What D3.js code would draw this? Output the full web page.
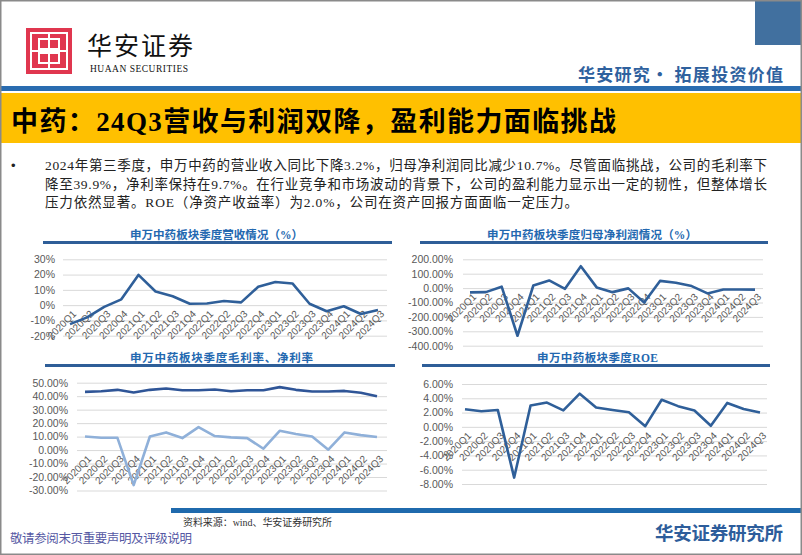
<!DOCTYPE html>
<html><head><meta charset="utf-8">
<script src="https://cdn.jsdelivr.net/npm/d3@7"></script>
<style>
html,body{margin:0;padding:0;background:#fff;}
svg{display:block;}
</style></head>
<body>
<svg id="c" width="802" height="555"></svg>
<script>
// ---------- DATA ----------
const quarters = ["2020Q1","2020Q2","2020Q3","2020Q4","2021Q1","2021Q2","2021Q3","2021Q4","2022Q1","2022Q2","2022Q3","2022Q4","2023Q1","2023Q2","2023Q3","2023Q4","2024Q1","2024Q2","2024Q3"];
const revenueYoY = [-12.4,-8.0,-1.1,3.8,19.8,8.9,5.8,0.9,1.1,2.7,1.8,12.0,15.1,14.2,0.9,-4.0,-0.7,-5.8,-3.2];
const netProfitYoY = [-30,-28,10,-331,18,53,-5,152,5,-28,-2,-100,50,37,14,-37,-10,-10,-10.7];
const grossMargin = [43.2,43.7,44.7,42.7,44.7,45.7,44.4,44.4,44.9,43.7,44.4,44.4,46.7,44.7,43.5,43.5,43.9,42.5,39.9];
const netMargin = [10.1,9.1,9.1,-26,10.1,13.1,8.9,17.0,10.4,9.4,8.9,1.0,14.3,11.9,10.1,0.3,13.1,11.1,9.7];
const roe = [2.47,2.19,2.37,-7.1,3.0,3.4,2.3,4.65,2.7,2.37,2.05,0.1,3.8,2.9,2.3,0.15,3.35,2.5,2.0];
const revenueTicks = [-20,-10,0,10,20,30];
const profitTicks = [-400,-300,-200,-100,0,100,200];
const marginTicks = [-30,-20,-10,0,10,20,30,40,50];
const roeTicks = [-8,-6,-4,-2,0,2,4,6];
const pageTitle = "中药：24Q3营收与利润双降，盈利能力面临挑战";
const paragraph = [
  "2024年第三季度，申万中药的营业收入同比下降3.2%，归母净利润同比减少10.7%。尽管面临挑战，公司的毛利率下",
  "降至39.9%，净利率保持在9.7%。在行业竞争和市场波动的背景下，公司的盈利能力显示出一定的韧性，但整体增长",
  "压力依然显著。ROE（净资产收益率）为2.0%，公司在资产回报方面面临一定压力。"
];

// ---------- PAGE ----------
const svg = d3.select("#c");
const CJK = "'Liberation Serif','Noto Sans CJK SC',serif";
const SANS = "'Liberation Sans',Arial,sans-serif";
const HEAD = "'Noto Sans CJK SC',sans-serif";

svg.append("rect").attr("x",0).attr("y",0).attr("width",802).attr("height",555).attr("fill","#fff");
// top-right blue block
svg.append("rect").attr("x",755).attr("y",0).attr("width",47).attr("height",45).attr("fill","#41709f");
// logo
const logo = svg.append("g").attr("transform","translate(26,28)");
logo.append("rect").attr("width",46).attr("height",46).attr("fill","#e0364f");
logo.append("rect").attr("x",5).attr("y",5).attr("width",36).attr("height",36).attr("fill","none").attr("stroke","#fff").attr("stroke-width",2);
logo.append("rect").attr("x",13).attr("y",11).attr("width",20).attr("height",10).attr("fill","none").attr("stroke","#fff").attr("stroke-width",2);
logo.append("rect").attr("x",13).attr("y",25).attr("width",20).attr("height",10).attr("fill","none").attr("stroke","#fff").attr("stroke-width",2);
logo.append("line").attr("x1",23).attr("x2",23).attr("y1",5).attr("y2",41).attr("stroke","#fff").attr("stroke-width",2);
logo.append("line").attr("x1",5).attr("x2",41).attr("y1",23).attr("y2",23).attr("stroke","#fff").attr("stroke-width",2);
svg.append("text").attr("x",87).attr("y",55).attr("font-family",HEAD).attr("font-size",25).attr("font-weight",400)
  .attr("fill","#111").attr("textLength",106).text("华安证券");
svg.append("text").attr("x",90).attr("y",72).attr("font-family","'Liberation Serif',serif").attr("font-size",9.5)
  .attr("fill","#111").attr("textLength",98).text("HUAAN SECURITIES");
svg.append("text").attr("x",578).attr("y",81).attr("font-family",HEAD).attr("font-size",17).attr("font-weight",700)
  .attr("fill","#2f619e").attr("textLength",205).text("华安研究• 拓展投资价值");
// blue stripe + yellow band
svg.append("rect").attr("x",0).attr("y",86).attr("width",802).attr("height",5).attr("fill","#2a6cb0");
svg.append("rect").attr("x",0).attr("y",93).attr("width",802).attr("height",50).attr("fill","#ffc000");
svg.append("text").attr("x",11).attr("y",131).attr("font-family",CJK).attr("font-size",27).attr("font-weight",700)
  .attr("fill","#000").attr("textLength",605).text(pageTitle);

// paragraph
svg.append("text").attr("x",11).attr("y",170).attr("font-family",SANS).attr("font-size",13).attr("fill","#222").text("•");
paragraph.forEach((line,i)=>{
  const t = svg.append("text").attr("x",45).attr("y",170+i*18.5).attr("font-family",CJK).attr("font-size",13.5)
    .attr("fill","#222").text(line);
  if(i<2) t.attr("textLength",722).attr("lengthAdjust","spacing");
  else t.attr("textLength",533).attr("lengthAdjust","spacing");
});

// ---------- CHART HELPER ----------
function chart(opt){
  const g = svg.append("g");
  // title + underline
  g.append("text").attr("x",opt.titleX).attr("y",opt.titleY).attr("text-anchor","middle")
    .attr("font-family",CJK).attr("font-size",11.5).attr("font-weight",700).attr("fill","#2368b0")
    .attr("textLength",opt.titleW).attr("lengthAdjust","spacing").text(opt.title);
  g.append("rect").attr("x",opt.lineX[0]).attr("y",opt.titleY+2).attr("width",opt.lineX[1]-opt.lineX[0]).attr("height",3).attr("fill","#2e5e98");

  const x = d3.scalePoint().domain(quarters).range(opt.xRange);
  const y = d3.scaleLinear().domain(opt.yDomain).range(opt.yRange);
  const gw = opt.grid[1]-opt.grid[0];
  const ya = g.append("g").attr("transform",`translate(${opt.grid[0]},0)`)
    .call(d3.axisLeft(y).tickValues(opt.ticks).tickSizeInner(-gw).tickSizeOuter(0).tickPadding(opt.grid[0]-opt.labelX).tickFormat(opt.fmt));
  ya.select(".domain").remove();
  ya.selectAll(".tick line").attr("stroke","#d9d9d9").attr("stroke-width",1);
  ya.selectAll(".tick text").attr("font-family",SANS).attr("font-size",10.5).attr("fill","#595959");

  const xa = g.append("g").attr("transform",`translate(0,${y(0)})`)
    .call(d3.axisBottom(x).tickSize(0).tickPadding(0));
  xa.select(".domain").remove();
  xa.selectAll(".tick text").attr("y",0).attr("dy","0.35em").attr("text-anchor","end")
    .attr("transform","translate(4,7) rotate(-45)")
    .attr("font-family",SANS).attr("font-size",10).attr("fill","#595959");

  opt.series.forEach(s=>{
    g.append("path").datum(s.values).attr("fill","none").attr("stroke",s.color).attr("stroke-width",2.6)
      .attr("stroke-linejoin","round")
      .attr("d",d3.line().x((d,i)=>x(quarters[i])).y(d=>y(d)));
  });
}

const pct0 = d=>d+"%";
const pct2 = d=>d.toFixed(2)+"%";

chart({title:"申万中药板块季度营收情况（%）",titleX:216.5,titleY:239,titleW:173,lineX:[43,392],
  xRange:[70,378],yDomain:[-20,30],yRange:[335.7,259.3],grid:[63,387],labelX:55,ticks:revenueTicks,fmt:pct0,
  series:[{values:revenueYoY,color:"#2f5f99"}]});
chart({title:"申万中药板块季度归母净利润情况（%）",titleX:592,titleY:239,titleW:210,lineX:[420,768],
  xRange:[470,755],yDomain:[-400,200],yRange:[345.7,259.3],grid:[463,763],labelX:453,ticks:profitTicks,fmt:pct2,
  series:[{values:netProfitYoY,color:"#2f5f99"}]});
chart({title:"申万中药板块季度毛利率、净利率",titleX:221.5,titleY:362,titleW:183,lineX:[45,395],
  xRange:[85,377],yDomain:[-30,50],yRange:[490.5,382.7],grid:[77,387],labelX:68,ticks:marginTicks,fmt:pct2,
  series:[{values:grossMargin,color:"#2f5597"},{values:netMargin,color:"#8fb0d9"}]});
chart({title:"申万中药板块季度ROE",titleX:597.5,titleY:362,titleW:121,lineX:[422,770],
  xRange:[465,760],yDomain:[-8,6],yRange:[484,384],grid:[462,767],labelX:453,ticks:roeTicks,fmt:pct2,
  series:[{values:roe,color:"#2f5f99"}]});

// ---------- FOOTER ----------
svg.append("rect").attr("x",171).attr("y",508).attr("width",631).attr("height",5).attr("fill","#1f6aad");
svg.append("text").attr("x",183).attr("y",526).attr("font-family",CJK).attr("font-size",10).attr("fill","#333")
  .attr("textLength",149).text("资料来源：wind、华安证券研究所");
svg.append("text").attr("x",10).attr("y",543).attr("font-family",CJK).attr("font-size",12.5).attr("fill","#5558a3")
  .attr("textLength",182).text("敬请参阅末页重要声明及评级说明");
svg.append("text").attr("x",655).attr("y",540).attr("font-family",HEAD).attr("font-size",18.5).attr("font-weight",700)
  .attr("fill","#2d5d9b").attr("textLength",128).text("华安证券研究所");

// page border
svg.append("rect").attr("x",0.75).attr("y",0.75).attr("width",800.5).attr("height",553.5).attr("fill","none").attr("stroke","#8a8a8a").attr("stroke-width",1.5);
</script>
</body></html>
